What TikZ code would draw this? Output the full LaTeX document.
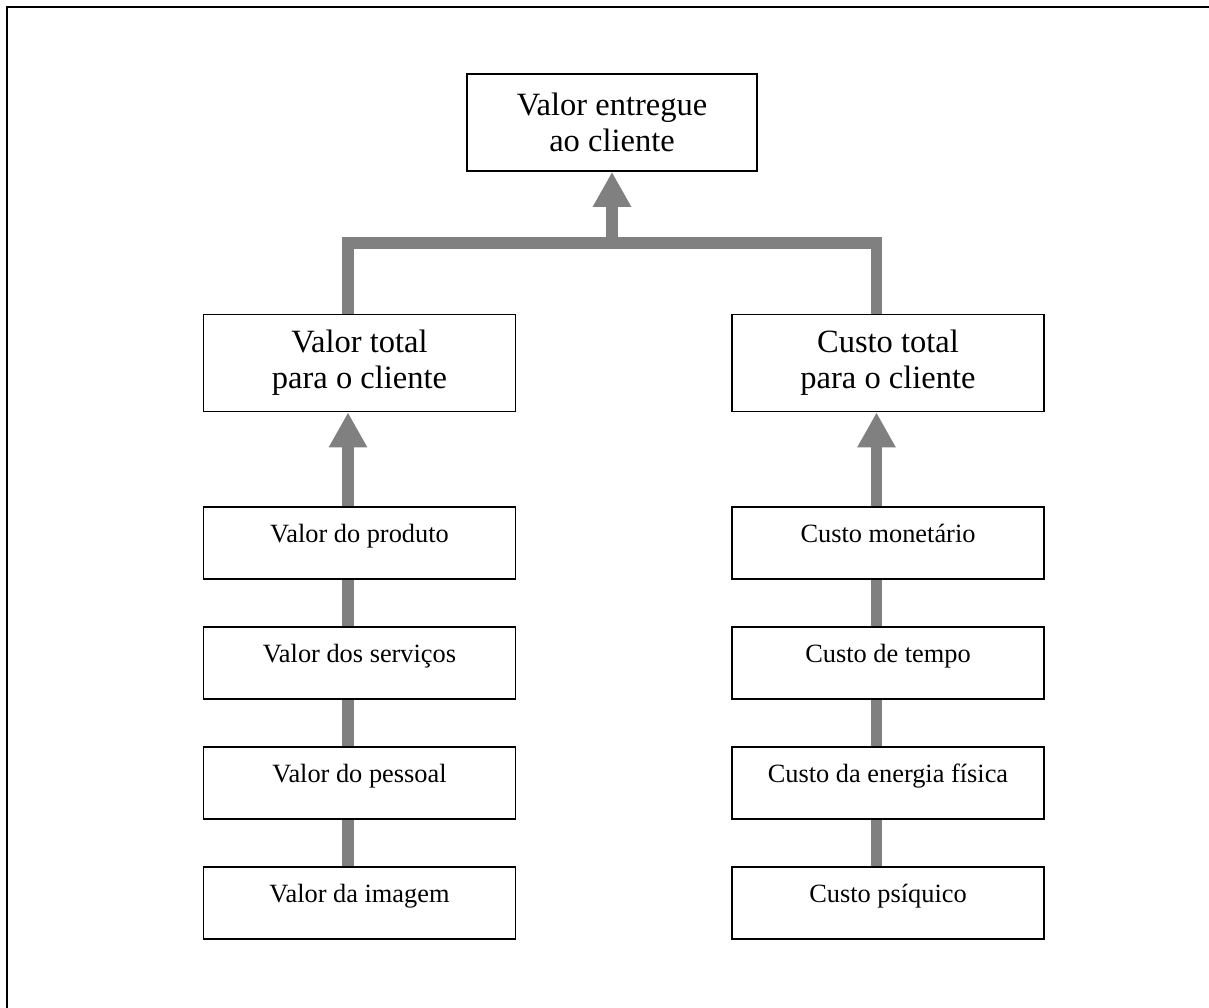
\documentclass[tikz,border=0pt]{standalone}
\usepackage{fontspec}
\setmainfont{Liberation Serif}
\usetikzlibrary{positioning,arrows.meta}

\begin{document}
\begin{tikzpicture}[x=1cm,y=1cm,
  box/.style={draw=black,line width=1pt,fill=white,align=center,inner sep=0pt},
  bigbox/.style={box,minimum width=6.24cm,minimum height=1.94cm,font=\fontsize{18.5}{20.5}\selectfont},
  smallbox/.style={box,minimum width=6.24cm,minimum height=1.44cm,text height=0.5cm,text depth=0.5cm,font=\fontsize{15}{18}\selectfont},
  link/.style={draw=gray,line width=0.23cm},
  flow/.style={link,-{Triangle[length=0.7cm,width=0.72cm]}}]
\useasboundingbox (0,0) rectangle (24.18,-20.16);
\draw[line width=1.15pt] (0.14,-20.6) -- (0.14,-0.14) -- (24.6,-0.14);
% top
\node[bigbox,minimum width=5.8cm] (entregue) at (12.24,-2.45) {Valor entregue\\ao cliente};
% totals
\node[bigbox] (valortotal) at (7.19,-7.26) {Valor total\\para o cliente};
\node[bigbox] (custototal) at (17.76,-7.26) {Custo total\\para o cliente};
% valor side
\node[smallbox] (produto) at (7.19,-10.86) {Valor do produto};
\node[smallbox] (servicos) at (7.19,-13.26) {Valor dos serviços};
\node[smallbox] (pessoal) at (7.19,-15.66) {Valor do pessoal};
\node[smallbox] (imagem) at (7.19,-18.06) {Valor da imagem};
% custo side
\node[smallbox] (monetario) at (17.76,-10.86) {Custo monetário};
\node[smallbox] (tempo) at (17.76,-13.26) {Custo de tempo};
\node[smallbox] (energia) at (17.76,-15.66) {Custo da energia física};
\node[smallbox] (psiquico) at (17.76,-18.06) {Custo psíquico};
% connectors
\draw[link] ([xshift=-0.23cm]imagem.north) -- ([xshift=-0.23cm]pessoal.south);
\draw[link] ([xshift=-0.23cm]pessoal.north) -- ([xshift=-0.23cm]servicos.south);
\draw[link] ([xshift=-0.23cm]servicos.north) -- ([xshift=-0.23cm]produto.south);
\draw[flow] ([xshift=-0.23cm]produto.north) -- ([xshift=-0.23cm]valortotal.south);
\draw[link] ([xshift=-0.23cm]psiquico.north) -- ([xshift=-0.23cm]energia.south);
\draw[link] ([xshift=-0.23cm]energia.north) -- ([xshift=-0.23cm]tempo.south);
\draw[link] ([xshift=-0.23cm]tempo.north) -- ([xshift=-0.23cm]monetario.south);
\draw[flow] ([xshift=-0.23cm]monetario.north) -- ([xshift=-0.23cm]custototal.south);
\coordinate (juncao) at (12.24,-4.86);
\draw[link] ([xshift=-0.23cm]valortotal.north) |- (juncao) -| ([xshift=-0.23cm]custototal.north);
\draw[flow] (juncao) -- (entregue.south);
\end{tikzpicture}
\end{document}
